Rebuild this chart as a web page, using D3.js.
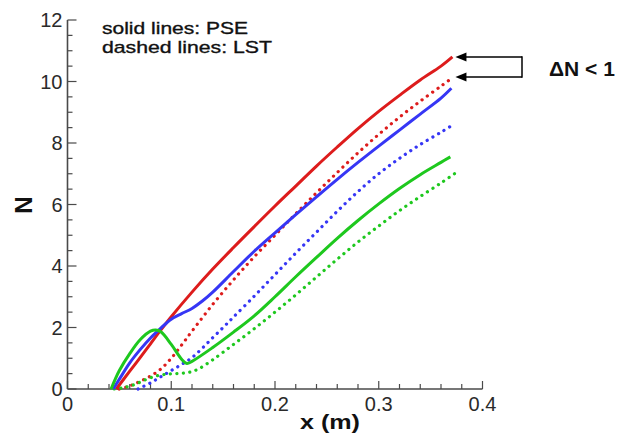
<!DOCTYPE html>
<html>
<head>
<meta charset="utf-8">
<script src="https://cdn.jsdelivr.net/npm/d3@7"></script>
<style>
  html, body { margin: 0; padding: 0; background: #fff; }
  svg { display: block; }
  text { font-family: "Liberation Sans", Arial, Helvetica, sans-serif; }
</style>
</head>
<body>
<svg id="chart" width="623" height="437"></svg>
<script>
// ---- data ----
const xTicks = [0, 0.1, 0.2, 0.3, 0.4];
const yTicks = [0, 2, 4, 6, 8, 10, 12];

const redPSE_x = [0.047, 0.06, 0.07, 0.08, 0.09, 0.10, 0.12, 0.14, 0.16, 0.18, 0.20, 0.22, 0.24, 0.26, 0.28, 0.30, 0.32, 0.34, 0.36, 0.371];
const redPSE_N = [0, 0.58, 1.02, 1.47, 1.92, 2.35, 3.15, 3.9, 4.6, 5.28, 5.95, 6.6, 7.25, 7.87, 8.47, 9.03, 9.55, 10.05, 10.5, 10.8];

const redLST_x = [0.05, 0.06, 0.07, 0.08, 0.09, 0.10, 0.11, 0.12, 0.14, 0.16, 0.18, 0.20, 0.22, 0.24, 0.26, 0.28, 0.30, 0.32, 0.34, 0.36, 0.372];
const redLST_N = [0, 0.1, 0.25, 0.42, 0.65, 1.0, 1.43, 1.88, 2.75, 3.55, 4.3, 5.0, 5.7, 6.38, 7.04, 7.68, 8.28, 8.84, 9.36, 9.85, 10.15];

const bluePSE_x = [0.044, 0.05, 0.06, 0.07, 0.08, 0.09, 0.10, 0.11, 0.12, 0.13, 0.14, 0.16, 0.18, 0.20, 0.22, 0.24, 0.26, 0.28, 0.30, 0.32, 0.34, 0.36, 0.37];
const bluePSE_N = [0, 0.32, 0.85, 1.28, 1.66, 1.98, 2.27, 2.45, 2.62, 2.86, 3.15, 3.82, 4.48, 5.08, 5.67, 6.25, 6.82, 7.37, 7.9, 8.42, 8.94, 9.46, 9.78];

const blueLST_x = [0.068, 0.08, 0.09, 0.10, 0.11, 0.12, 0.13, 0.14, 0.15, 0.16, 0.18, 0.20, 0.22, 0.24, 0.26, 0.28, 0.30, 0.32, 0.34, 0.36, 0.372];
const blueLST_N = [0, 0.2, 0.4, 0.6, 0.8, 1.02, 1.33, 1.67, 2.0, 2.34, 3.02, 3.72, 4.42, 5.1, 5.78, 6.42, 7.0, 7.5, 7.95, 8.35, 8.6];

const greenPSE_x = [0.042, 0.05, 0.06, 0.07, 0.08, 0.085, 0.09, 0.10, 0.11, 0.115, 0.12, 0.14, 0.16, 0.18, 0.20, 0.22, 0.24, 0.26, 0.28, 0.30, 0.32, 0.34, 0.36, 0.369];
const greenPSE_N = [0, 0.6, 1.15, 1.6, 1.88, 1.92, 1.86, 1.45, 0.97, 0.83, 0.9, 1.35, 1.85, 2.38, 3.0, 3.65, 4.28, 4.9, 5.48, 6.02, 6.52, 6.97, 7.37, 7.55];

const greenLST_x = [0.045, 0.055, 0.065, 0.075, 0.085, 0.095, 0.105, 0.115, 0.125, 0.14, 0.16, 0.18, 0.20, 0.22, 0.24, 0.26, 0.28, 0.30, 0.32, 0.34, 0.36, 0.373];
const greenLST_N = [0, 0.05, 0.15, 0.3, 0.42, 0.48, 0.5, 0.53, 0.63, 0.95, 1.45, 1.96, 2.5, 3.06, 3.64, 4.22, 4.78, 5.3, 5.8, 6.26, 6.7, 7.0];

const seriesColors = { red: "#dd1c1c", blue: "#3636f5", green: "#1ec81e" };

// ---- layout ----
const svg = d3.select("#chart");
const mLeft = 67.5, mRight = 482.5, mTop = 20, mBottom = 389;
const x = d3.scaleLinear().domain([0, 0.4]).range([mLeft, mRight]);
const y = d3.scaleLinear().domain([0, 12]).range([mBottom, mTop]);
const axisColor = "#4a4a4a";

// ---- axes ----
const gx = svg.append("g").attr("transform", `translate(0,${mBottom})`);
gx.append("line").attr("x1", x(0)).attr("x2", x(0.4)).attr("stroke", axisColor).attr("stroke-width", 1.6);
gx.selectAll("line.tk").data(d3.range(0, 21)).enter().append("line").attr("class", "tk")
  .attr("x1", d => x(d * 0.02)).attr("x2", d => x(d * 0.02))
  .attr("y1", 0).attr("y2", d => d % 5 === 0 ? -8 : -5)
  .attr("stroke", axisColor).attr("stroke-width", 1.2);
gx.selectAll("text").data(xTicks).enter().append("text")
  .attr("x", d => x(d)).attr("y", 22)
  .attr("text-anchor", "middle").attr("font-size", 20).attr("fill", "#2a2a2a")
  .text(d => d === 0 ? "0" : d3.format(".1f")(d));

const gy = svg.append("g");
gy.append("line").attr("x1", mLeft).attr("x2", mLeft).attr("y1", y(0)).attr("y2", y(12))
  .attr("stroke", axisColor).attr("stroke-width", 1.6);
gy.selectAll("line.tk").data(d3.range(0, 25)).enter().append("line").attr("class", "tk")
  .attr("y1", d => y(d * 0.5)).attr("y2", d => y(d * 0.5))
  .attr("x1", mLeft).attr("x2", d => d % 4 === 0 ? mLeft + 9 : mLeft + 5)
  .attr("stroke", axisColor).attr("stroke-width", 1.2);
gy.selectAll("text").data(yTicks).enter().append("text")
  .attr("x", mLeft - 5).attr("y", d => y(d) + 7)
  .attr("text-anchor", "end").attr("font-size", 20).attr("fill", "#2a2a2a")
  .text(d => d);

// axis titles
svg.append("text").attr("x", 330).attr("y", 429).attr("text-anchor", "middle")
  .attr("font-size", 21).attr("font-weight", "bold").attr("fill", "#111")
  .attr("textLength", 60).attr("lengthAdjust", "spacingAndGlyphs")
  .text("x (m)");
svg.append("text").attr("transform", "translate(32,205) rotate(-90)")
  .attr("text-anchor", "middle").attr("font-size", 24).attr("font-weight", "bold").attr("fill", "#111")
  .text("N");

// ---- lines ----
const line = d3.line().x(d => x(d[0])).y(d => y(d[1])).curve(d3.curveCatmullRom.alpha(0.5));
const zip = (a, b) => a.map((v, i) => [v, b[i]]);
const series = [
  { xs: redLST_x, ys: redLST_N, c: seriesColors.red, dash: true },
  { xs: blueLST_x, ys: blueLST_N, c: seriesColors.blue, dash: true },
  { xs: greenLST_x, ys: greenLST_N, c: seriesColors.green, dash: true },
  { xs: redPSE_x, ys: redPSE_N, c: seriesColors.red, dash: false },
  { xs: bluePSE_x, ys: bluePSE_N, c: seriesColors.blue, dash: false },
  { xs: greenPSE_x, ys: greenPSE_N, c: seriesColors.green, dash: false }
];
series.forEach(s => {
  const p = svg.append("path").attr("d", line(zip(s.xs, s.ys)))
    .attr("fill", "none").attr("stroke", s.c);
  if (s.dash) {
    p.attr("stroke-width", 3.2).attr("stroke-dasharray", "0.1 6.4").attr("stroke-linecap", "round");
  } else {
    p.attr("stroke-width", 3).attr("stroke-linejoin", "round");
  }
});

// ---- annotation text ----
svg.append("text").attr("x", 102).attr("y", 34).attr("font-size", 17).attr("fill", "#111")
  .attr("stroke", "#111").attr("stroke-width", 0.35)
  .attr("textLength", 146).attr("lengthAdjust", "spacingAndGlyphs").text("solid lines: PSE");
svg.append("text").attr("x", 102).attr("y", 53).attr("font-size", 17).attr("fill", "#111")
  .attr("stroke", "#111").attr("stroke-width", 0.35)
  .attr("textLength", 170).attr("lengthAdjust", "spacingAndGlyphs").text("dashed lines: LST");

// ---- ΔN arrows ----
const yA = y(redPSE_N[redPSE_N.length - 1]);
const yB = y(redLST_N[redLST_N.length - 1]);
const tipX = x(redLST_x[redLST_x.length - 1]) + 2;
const barX = 522;
[yA, yB].forEach(yy => {
  svg.append("line").attr("x1", barX).attr("x2", tipX + 8).attr("y1", yy).attr("y2", yy)
    .attr("stroke", "#000").attr("stroke-width", 1.5);
  svg.append("path").attr("d", `M${tipX},${yy} L${tipX + 11},${yy - 4.5} L${tipX + 11},${yy + 4.5} Z`).attr("fill", "#000");
});
svg.append("line").attr("x1", barX).attr("x2", barX).attr("y1", yA - 0.75).attr("y2", yB + 0.75)
  .attr("stroke", "#000").attr("stroke-width", 1.5);
svg.append("text").attr("x", 549).attr("y", 76).attr("font-size", 21).attr("font-weight", "bold")
  .attr("fill", "#111").text("ΔN < 1");
</script>
</body>
</html>
